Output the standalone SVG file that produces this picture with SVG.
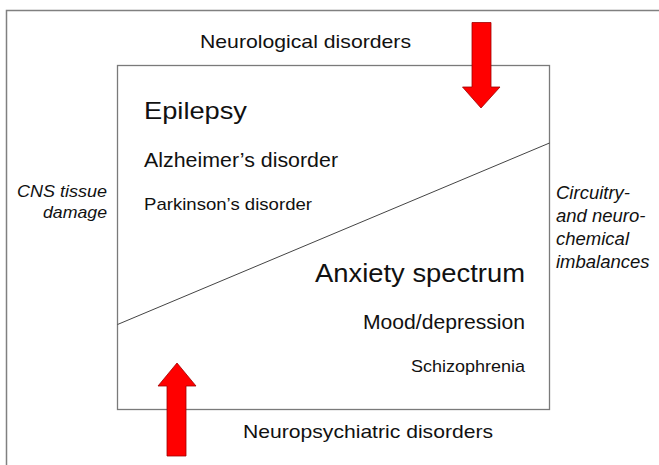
<svg xmlns="http://www.w3.org/2000/svg" width="659" height="465" viewBox="0 0 659 465">
  <style>
    text { font-family: "Liberation Sans", Arial, sans-serif; fill: #111; }
    .it { font-style: italic; }
    .frame { fill: none; stroke: #808080; stroke-width: 1.5; }
    .box { fill: #fff; stroke: #7a7a7a; stroke-width: 1.3; }
    .divider { stroke: #444; stroke-width: 1; }
    .arrow { fill: #ff0000; stroke: #a00000; stroke-width: 0.8; }
  </style>
  <rect width="659" height="465" fill="#fff"/>
  <g id="frame">
    <path class="frame" d="M6.5,466 V10.5 H660"/>
  </g>
  <g id="box">
    <rect class="box" x="117.5" y="65.5" width="432" height="344"/>
    <line class="divider" x1="117.5" y1="324.5" x2="549.5" y2="143"/>
  </g>
  <g id="label-neurological">
    <text x="200" y="48" font-size="19" textLength="211" lengthAdjust="spacingAndGlyphs">Neurological disorders</text>
  </g>
  <g id="label-neuropsychiatric">
    <text x="243" y="438" font-size="19" textLength="250" lengthAdjust="spacingAndGlyphs">Neuropsychiatric disorders</text>
  </g>
  <g id="label-cns">
    <text class="it" x="17" y="197" font-size="17" textLength="90" lengthAdjust="spacingAndGlyphs">CNS tissue</text>
    <text class="it" x="43" y="218" font-size="17" textLength="64" lengthAdjust="spacingAndGlyphs">damage</text>
  </g>
  <g id="label-circuitry">
    <text class="it" x="556" y="199" font-size="18.5">Circuitry-</text>
    <text class="it" x="556" y="222" font-size="18.5">and neuro-</text>
    <text class="it" x="556" y="245" font-size="18.5">chemical</text>
    <text class="it" x="556" y="268" font-size="18.5">imbalances</text>
  </g>
  <g id="neurological-list">
    <text x="144" y="119" font-size="24" textLength="103" lengthAdjust="spacingAndGlyphs">Epilepsy</text>
    <text x="144" y="167" font-size="19.5" textLength="194" lengthAdjust="spacingAndGlyphs">Alzheimer’s disorder</text>
    <text x="144" y="210" font-size="17" textLength="168" lengthAdjust="spacingAndGlyphs">Parkinson’s disorder</text>
  </g>
  <g id="neuropsychiatric-list">
    <text x="315" y="282" font-size="26" textLength="210" lengthAdjust="spacingAndGlyphs">Anxiety spectrum</text>
    <text x="363" y="329" font-size="21" textLength="162" lengthAdjust="spacingAndGlyphs">Mood/depression</text>
    <text x="411" y="372" font-size="17" textLength="114" lengthAdjust="spacingAndGlyphs">Schizophrenia</text>
  </g>
  <g id="arrows">
    <polygon class="arrow" points="472,22.5 491,22.5 491,87 500,87 481,108 462.5,87 472,87"/>
    <polygon class="arrow" points="167,456 186,456 186,386 196,386 177,363 158,386 167,386"/>
  </g>
</svg>
